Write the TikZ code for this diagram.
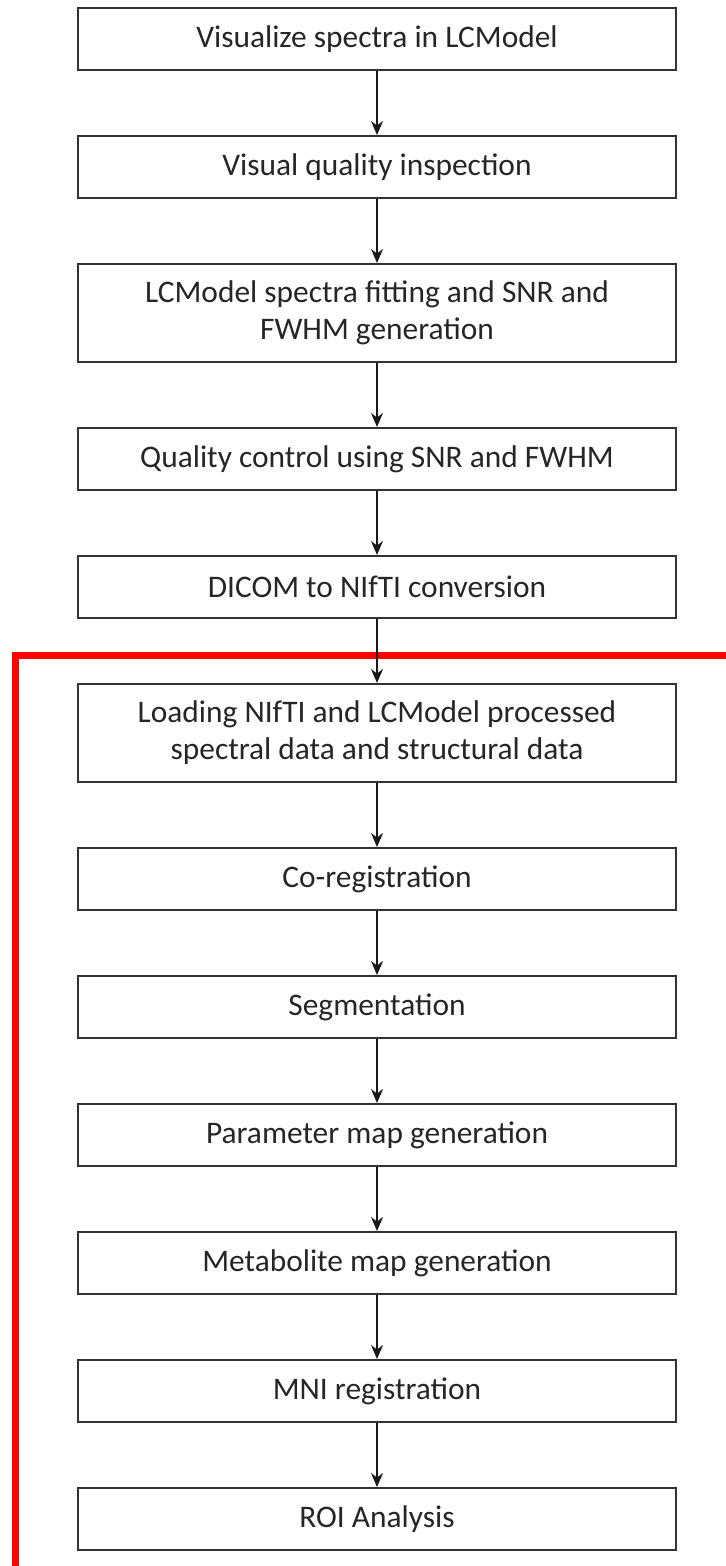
\documentclass[tikz,border=0pt]{standalone}
\usepackage{fontspec}
\setmainfont{Carlito}
\usetikzlibrary{positioning,arrows.meta}

\begin{document}
\begin{tikzpicture}[
                    stepbox/.style={rectangle, draw=black!80, line width=1pt, fill=white, text=black!85, minimum width=299pt, minimum height=31pt, inner sep=3pt, font=\fontsize{15.7}{18.5}\selectfont},
                    tall/.style={minimum height=49pt},
                    flow/.style={-{Stealth[length=7pt,width=6pt]}, line width=0.8pt, black!90},
                    bracket/.style={draw=red, line width=3.5pt, line join=miter},
                    node distance=32pt,
                    align=center,
                ]
                \useasboundingbox (0,0) rectangle (363pt,-783pt);
                \draw[bracket] (7.5pt,-790pt) -- (7.5pt,-327.5pt) -- (370pt,-327.5pt);

                \node[stepbox] (visualize) at (188.5pt,-19.5pt) {Visualize spectra in LCModel};
                \node[stepbox] (inspect) [below=of visualize] {Visual quality inspection};
                \node[stepbox, tall] (fitting) [below=of inspect] {LCModel spectra fitting and SNR and\\ FWHM generation};
                \node[stepbox] (quality) [below=of fitting] {Quality control using SNR and FWHM};
                \node[stepbox] (convert) [below=of quality] {DICOM to NIfTI conversion};
                \node[stepbox, tall] (loading) [below=of convert] {Loading NIfTI and LCModel processed\\ spectral data and structural data};
                \node[stepbox] (coreg) [below=of loading] {Co-registration};
                \node[stepbox] (segment) [below=of coreg] {Segmentation};
                \node[stepbox] (parammap) [below=of segment] {Parameter map generation};
                \node[stepbox] (metabmap) [below=of parammap] {Metabolite map generation};
                \node[stepbox] (mni) [below=of metabmap] {MNI registration};
                \node[stepbox] (roi) [below=of mni] {ROI Analysis};

                \draw[flow] (visualize.south) -- (inspect.north);
                \draw[flow] (inspect.south) -- (fitting.north);
                \draw[flow] (fitting.south) -- (quality.north);
                \draw[flow] (quality.south) -- (convert.north);
                \draw[flow] (convert.south) -- (loading.north);
                \draw[flow] (loading.south) -- (coreg.north);
                \draw[flow] (coreg.south) -- (segment.north);
                \draw[flow] (segment.south) -- (parammap.north);
                \draw[flow] (parammap.south) -- (metabmap.north);
                \draw[flow] (metabmap.south) -- (mni.north);
                \draw[flow] (mni.south) -- (roi.north);
            \end{tikzpicture}
\end{document}
